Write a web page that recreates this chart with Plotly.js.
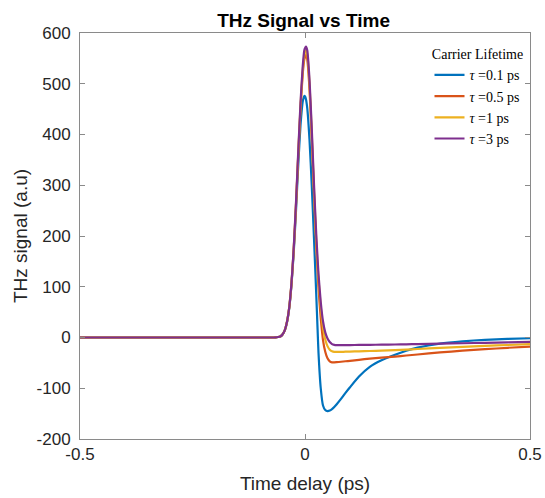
<!DOCTYPE html>
<html>
<head>
<meta charset="utf-8">
<script src="https://cdn.plot.ly/plotly-3.0.1.min.js"></script>
<style>html,body{margin:0;padding:0;background:#fff;}#chart{width:545px;height:498px;}</style>
</head>
<body>
<div id="chart"></div>
<script>
// Time delay (ps)
var timeDelay = [-0.5, -0.3, -0.1, -0.07, -0.065, -0.06, -0.055, -0.05, -0.045, -0.04,
  -0.035, -0.03, -0.025, -0.02, -0.015, -0.01, -0.005, -0.0015, 0, 0.002,
  0.005, 0.01, 0.015, 0.02, 0.025, 0.028, 0.03, 0.035, 0.04, 0.045,
  0.05, 0.055, 0.06, 0.065, 0.07, 0.08, 0.09, 0.1, 0.12, 0.144,
  0.17, 0.2, 0.225, 0.25, 0.3, 0.35, 0.4, 0.45, 0.5];

// THz signal (a.u) for each carrier lifetime
var tau01 = [0, 0, 0, 0, 0.3, 1, 2, 6, 14, 30,
  58, 104, 168, 250, 340, 418, 465, 476, 475, 470,
  452, 390, 300, 195, 85, 15, -30, -100, -134, -143,
  -145, -144, -141, -137, -132, -121, -109, -98, -77, -58,
  -45, -34, -26, -20, -12, -7.5, -4.5, -2.8, -1.5];

var tau05 = [0, 0, 0, 0, 0.3, 1, 2, 6, 14, 31,
  59, 106, 174, 260, 358, 450, 520, 548, 553, 557,
  548, 490, 392, 280, 178, 130, 98, 38, -5, -28,
  -41, -47, -49, -49, -48.7, -47.8, -46.8, -46, -44, -41.5,
  -39.5, -37.5, -35.5, -33.5, -29.5, -26, -23, -20.3, -17.8];

var tau1 = [0, 0, 0, 0, 0.3, 1, 2, 6, 14, 31,
  60, 107, 175, 263, 362, 456, 527, 556, 562, 566,
  558, 500, 402, 290, 190, 142, 115, 60, 20, -4,
  -17, -24, -27, -28.3, -28.5, -28.3, -28, -27.7, -27.2, -26.6,
  -25.8, -24.8, -23.8, -22.7, -20.5, -18.5, -16.6, -14.8, -13.2];

var tau3 = [0, 0, 0, 0, 0.3, 1, 2, 6, 14, 31,
  60, 108, 177, 266, 367, 462, 535, 566, 570, 573,
  566, 508, 412, 302, 203, 155, 125, 70, 32, 10,
  -2, -9, -13, -14.5, -15, -15, -15, -14.9, -14.7, -14.4,
  -14.1, -13.8, -13.4, -13, -12.2, -11.3, -10.4, -9.5, -8.6];

var seriesNames = ['<i>τ</i> =0.1 ps', '<i>τ</i> =0.5 ps', '<i>τ</i> =1 ps', '<i>τ</i> =3 ps'];
var seriesValues = [tau01, tau05, tau1, tau3];
var seriesColors = ['#0072BD', '#D95319', '#EDB120', '#7E2F8E'];

var xTickVals = [-0.5, 0, 0.5];
var xTickText = ['-0.5', '0', '0.5'];
var yTickVals = [-200, -100, 0, 100, 200, 300, 400, 500, 600];
var yTickText = ['-200', '-100', '0', '100', '200', '300', '400', '500', '600'];

var traces = seriesValues.map(function (vals, i) {
  return {
    x: timeDelay, y: vals, type: 'scatter', mode: 'lines', name: seriesNames[i],
    line: {color: seriesColors[i], width: 2.2, shape: 'spline', smoothing: 0.5}
  };
});

var axisCommon = {
  showline: true, mirror: 'ticks', linecolor: '#8a8a8a', linewidth: 1,
  ticks: 'inside', ticklen: 5, tickcolor: '#8a8a8a', tickwidth: 1,
  showgrid: false, zeroline: false,
  tickfont: {family: 'Liberation Sans, Arial, sans-serif', size: 17, color: '#262626'}
};

var layout = {
  width: 545, height: 498,
  margin: {l: 80, r: 15, t: 33, b: 59},
  paper_bgcolor: '#ffffff', plot_bgcolor: '#ffffff',
  title: {text: '<b>THz Signal vs Time</b>', x: 0.557, xanchor: 'center', y: 0.96, yanchor: 'middle',
    font: {family: 'Liberation Sans, Arial, sans-serif', size: 19, color: '#000000'}},
  xaxis: Object.assign({}, axisCommon, {
    range: [-0.5, 0.5], tickmode: 'array', tickvals: xTickVals, ticktext: xTickText,
    title: {text: 'Time delay (ps)', standoff: 13,
      font: {family: 'Liberation Sans, Arial, sans-serif', size: 19, color: '#262626'}}
  }),
  yaxis: Object.assign({}, axisCommon, {
    range: [-200, 600], tickmode: 'array', tickvals: yTickVals, ticktext: yTickText,
    ticklabelstandoff: 5,
    title: {text: 'THz signal (a.u)', standoff: 3,
      font: {family: 'Liberation Sans, Arial, sans-serif', size: 19, color: '#262626'}}
  }),
  showlegend: true,
  legend: {
    x: 0.99, xanchor: 'right', y: 0.98, yanchor: 'top',
    bgcolor: 'rgba(255,255,255,0)', borderwidth: 0,
    font: {family: 'Liberation Serif, Times New Roman, serif', size: 14, color: '#000000'},
    title: {text: 'Carrier Lifetime', side: 'top center',
      font: {family: 'Liberation Serif, Times New Roman, serif', size: 14, color: '#000000'}},
    tracegroupgap: 0
  }
};

Plotly.newPlot('chart', traces, layout, {displayModeBar: false, staticPlot: true});
</script>
</body>
</html>
